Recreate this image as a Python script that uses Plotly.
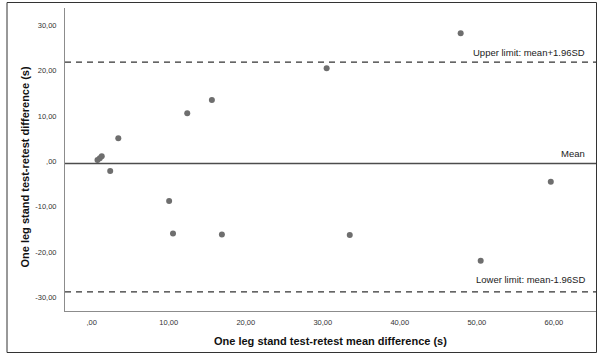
import plotly.graph_objects as go

mean_diff = [0.75, 1.05, 1.3, 2.4, 3.45, 10.05, 10.55, 12.4, 15.6, 16.9, 30.5, 33.5, 47.9, 50.5, 59.6]
test_diff = [0.3, 0.7, 1.1, -2.1, 5.1, -8.7, -15.9, 10.6, 13.5, -16.1, 20.5, -16.2, 28.2, -21.9, -4.5]

mean_line = -0.45
upper_limit = 21.85
lower_limit = -28.7

x_ticks = [0, 10, 20, 30, 40, 50, 60]
x_tick_labels = [",00", "10,00", "20,00", "30,00", "40,00", "50,00", "60,00"]
y_ticks = [30, 20, 10, 0, -10, -20, -30]
y_tick_labels = ["30,00", "20,00", "10,00", ",00", "-10,00", "-20,00", "-30,00"]

X_RANGE = [-3.47, 65.6]
Y_RANGE = [-32.93, 33.74]

font_family = "Liberation Sans, Arial, sans-serif"

fig = go.Figure()
fig.add_trace(go.Scatter(
    x=mean_diff, y=test_diff, mode="markers",
    marker=dict(color="#6e6e6e", size=6, line=dict(width=0)),
    showlegend=False, hoverinfo="skip"))

# reference lines
fig.add_shape(type="line", xref="x", yref="y", x0=X_RANGE[0], x1=X_RANGE[1],
              y0=mean_line, y1=mean_line, line=dict(color="#4d4d4d", width=1.5))
for v in (upper_limit, lower_limit):
    fig.add_shape(type="line", xref="x", yref="y", x0=X_RANGE[0], x1=X_RANGE[1],
                  y0=v, y1=v, line=dict(color="#333333", width=1.2, dash="6px,5px"))

# outer frame
W, H = 597, 356
ml, mr, mt, mb = 65, 0, 8, 45
pw, ph = W - ml - mr, H - mt - mb
def px(xp):
    return (xp - ml) / pw
def py(yp):
    return (H - mb - yp) / ph
fig.add_shape(type="rect", xref="paper", yref="paper",
              x0=px(7), x1=px(596.5), y0=py(352.5), y1=py(2.5),
              line=dict(color="#333333", width=1), fillcolor="rgba(0,0,0,0)")

ann_font = dict(family=font_family, size=9.5, color="#222222")
fig.add_annotation(x=px(587), y=upper_limit, xref="paper", yref="y", text="Upper limit: mean+1.96SD",
                   showarrow=False, xanchor="right", yanchor="bottom", yshift=2, font=ann_font)
fig.add_annotation(x=px(587), y=mean_line, xref="paper", yref="y", text="Mean",
                   showarrow=False, xanchor="right", yanchor="bottom", yshift=2, font=ann_font)
fig.add_annotation(x=px(587), y=lower_limit, xref="paper", yref="y", text="Lower limit: mean-1.96SD",
                   showarrow=False, xanchor="right", yanchor="bottom", yshift=5, font=ann_font)

title_font = dict(family=font_family, size=11, color="#111111")
fig.add_annotation(x=px(330), y=py(341), xref="paper", yref="paper",
                   text="<b>One leg stand test-retest mean difference (s)</b>",
                   showarrow=False, xanchor="center", yanchor="middle", font=title_font)
fig.add_annotation(x=px(24), y=py(167.5), xref="paper", yref="paper",
                   text="<b>One leg stand test-retest difference (s)</b>", textangle=-90,
                   showarrow=False, xanchor="center", yanchor="middle", font=title_font)

fig.update_layout(
    width=W, height=H,
    margin=dict(l=ml, r=mr, t=mt, b=mb),
    paper_bgcolor="white", plot_bgcolor="white",
    font=dict(family=font_family, color="#222222"),
    xaxis=dict(range=X_RANGE, tickvals=x_ticks, ticktext=x_tick_labels,
               showgrid=False, zeroline=False, showline=True, linecolor="#8c8c8c", linewidth=1,
               ticks="", tickfont=dict(size=7.5, color="#333333"), ticklabelstandoff=4),
    yaxis=dict(range=Y_RANGE, tickvals=y_ticks, ticktext=y_tick_labels,
               showgrid=False, zeroline=False, showline=True, linecolor="#8c8c8c", linewidth=1,
               ticks="", tickfont=dict(size=7.5, color="#333333"), ticklabelstandoff=6),
)

fig.write_html("out.html")
